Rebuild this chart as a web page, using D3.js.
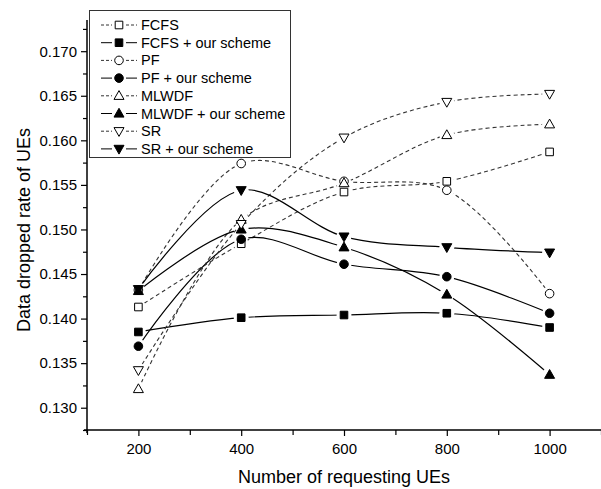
<!DOCTYPE html>
<html><head><meta charset="utf-8">
<script src="https://cdn.jsdelivr.net/npm/d3@7"></script>
<style>
html,body{margin:0;padding:0;background:#fff;}
svg{display:block;font-family:"Liberation Sans",Arial,sans-serif;}
</style></head>
<body><svg id="c" width="601" height="489"></svg>
<script>
const xValues = [200, 400, 600, 800, 1000];
const fcfs       = [0.1413, 0.1484, 0.1542, 0.1554, 0.1587];
const fcfsOur    = [0.1385, 0.1401, 0.1404, 0.1406, 0.1390];
const pf         = [0.1432, 0.1574, 0.1554, 0.1544, 0.1428];
const pfOur      = [0.1369, 0.1489, 0.1461, 0.1447, 0.1406];
const mlwdf      = [0.1321, 0.1511, 0.1552, 0.1606, 0.1618];
const mlwdfOur   = [0.1431, 0.1500, 0.1480, 0.1427, 0.1337];
const sr         = [0.1342, 0.1506, 0.1603, 0.1643, 0.1652];
const srOur      = [0.1433, 0.1544, 0.1492, 0.1480, 0.1474];
const seriesNames = ["FCFS","FCFS + our scheme","PF","PF + our scheme","MLWDF","MLWDF + our scheme","SR","SR + our scheme"];
const yMajorTicks = [0.130,0.135,0.140,0.145,0.150,0.155,0.160,0.165,0.170];
const yMinorTicks = [0.1275,0.1325,0.1375,0.1425,0.1475,0.1525,0.1575,0.1625,0.1675,0.1725];
const xMajorTicks = [200,400,600,800,1000];
const xMinorTicks = [100,300,500,700,900,1100];
const xTitle = "Number of requesting UEs";
const yTitle = "Data dropped rate of UEs";

const series = [
  {name:seriesNames[0], values:fcfs,     shape:"square",  filled:false, dashed:true},
  {name:seriesNames[1], values:fcfsOur,  shape:"square",  filled:true,  dashed:false},
  {name:seriesNames[2], values:pf,       shape:"circle",  filled:false, dashed:true},
  {name:seriesNames[3], values:pfOur,    shape:"circle",  filled:true,  dashed:false},
  {name:seriesNames[4], values:mlwdf,    shape:"triUp",   filled:false, dashed:true},
  {name:seriesNames[5], values:mlwdfOur, shape:"triUp",   filled:true,  dashed:false},
  {name:seriesNames[6], values:sr,       shape:"triDown", filled:false, dashed:true},
  {name:seriesNames[7], values:srOur,    shape:"triDown", filled:true,  dashed:false}
];

const svg = d3.select("#c");
const x = d3.scaleLinear().domain([100,1100]).range([87,601]);
const y = d3.scaleLinear().domain([0.1275,0.1735]).range([430,20]);

function shapePath(shape){
  if(shape==="square") return "M-3.8,-3.8H3.8V3.8H-3.8Z";
  if(shape==="circle") return d3.symbol(d3.symbolCircle, 58)();
  if(shape==="triUp") return "M0,-5.2L5,3.6L-5,3.6Z";
  return "M0,5.2L5,-3.6L-5,-3.6Z";
}

const defs = svg.append("defs");
const line = d3.line().x((d,i)=>x(xValues[i])).y(d=>y(d)).curve(d3.curveCatmullRom.alpha(0.5));

series.forEach((s,si)=>{
  const m = defs.append("mask").attr("id","m"+si).attr("maskUnits","userSpaceOnUse")
    .attr("x",0).attr("y",0).attr("width",601).attr("height",489);
  m.append("rect").attr("width",601).attr("height",489).attr("fill","#fff");
  m.selectAll("circle").data(s.values).join("circle")
    .attr("cx",(d,i)=>x(xValues[i])).attr("cy",d=>y(d)).attr("r",7.5).attr("fill","#000");
});

// lines
const gl = svg.append("g");
series.forEach((s,si)=>{
  gl.append("path").datum(s.values).attr("d",line)
    .attr("fill","none")
    .attr("stroke", s.dashed ? "#333" : "#000")
    .attr("stroke-width", s.dashed ? 1.1 : 1.2)
    .attr("stroke-dasharray", s.dashed ? "4,3" : null)
    .attr("mask","url(#m"+si+")");
});

// markers
const gm = svg.append("g");
series.forEach(s=>{
  gm.selectAll(null).data(s.values).join("path")
    .attr("transform",(d,i)=>`translate(${x(xValues[i])},${y(d)})`)
    .attr("d",shapePath(s.shape))
    .attr("fill", s.filled ? "#000" : "#fff")
    .attr("stroke","#000").attr("stroke-width",1);
});

// axes
const yAxis = svg.append("g").attr("transform","translate(87,0)")
  .call(d3.axisLeft(y).tickValues(yMajorTicks).tickFormat(d3.format(".3f")).tickSize(6).tickPadding(4));
svg.append("g").attr("transform","translate(87,0)")
  .call(d3.axisLeft(y).tickValues(yMinorTicks).tickFormat("").tickSize(4))
  .select(".domain").remove();
const xAxis = svg.append("g").attr("transform","translate(0,430)")
  .call(d3.axisBottom(x).tickValues(xMajorTicks).tickFormat(d3.format("d")).tickSize(6).tickPadding(7));
svg.append("g").attr("transform","translate(0,430)")
  .call(d3.axisBottom(x).tickValues(xMinorTicks).tickFormat("").tickSize(5))
  .select(".domain").remove();
svg.selectAll(".domain").attr("stroke","#000").attr("stroke-width",1.5);
svg.selectAll(".tick line").attr("stroke","#000").attr("stroke-width",1.2);
svg.selectAll(".tick text").attr("font-size",15).attr("fill","#000")
  .attr("font-family","'Liberation Sans',Arial,sans-serif");
yAxis.selectAll(".domain").attr("d","M0,20V433");
xAxis.selectAll(".domain").attr("d","M84,0H601");

svg.append("text").attr("x",x(600)).attr("y",483).attr("text-anchor","middle")
  .attr("font-size",18).text(xTitle);
svg.append("text").attr("transform","translate(30,230) rotate(-90)").attr("text-anchor","middle")
  .attr("font-size",18).text(yTitle);

// legend
const lg = svg.append("g");
lg.append("rect").attr("x",89.5).attr("y",10.5).attr("width",201).attr("height",147)
  .attr("fill","#fff").attr("stroke","#333").attr("stroke-width",1);
series.forEach((s,i)=>{
  const cy = 25 + i*17.7;
  const g = lg.append("g");
  g.append("line").attr("x1",101).attr("x2",112).attr("y1",cy).attr("y2",cy)
    .attr("stroke",s.dashed?"#333":"#000").attr("stroke-dasharray",s.dashed?"3,2":null);
  g.append("line").attr("x1",126).attr("x2",137).attr("y1",cy).attr("y2",cy)
    .attr("stroke",s.dashed?"#333":"#000").attr("stroke-dasharray",s.dashed?"3,2":null);
  g.append("path").attr("transform",`translate(119,${cy})`).attr("d",shapePath(s.shape))
    .attr("fill",s.filled?"#000":"#fff").attr("stroke","#000");
  g.append("text").attr("x",141).attr("y",cy+5).attr("font-size",14.5).text(s.name);
});
</script></body></html>
